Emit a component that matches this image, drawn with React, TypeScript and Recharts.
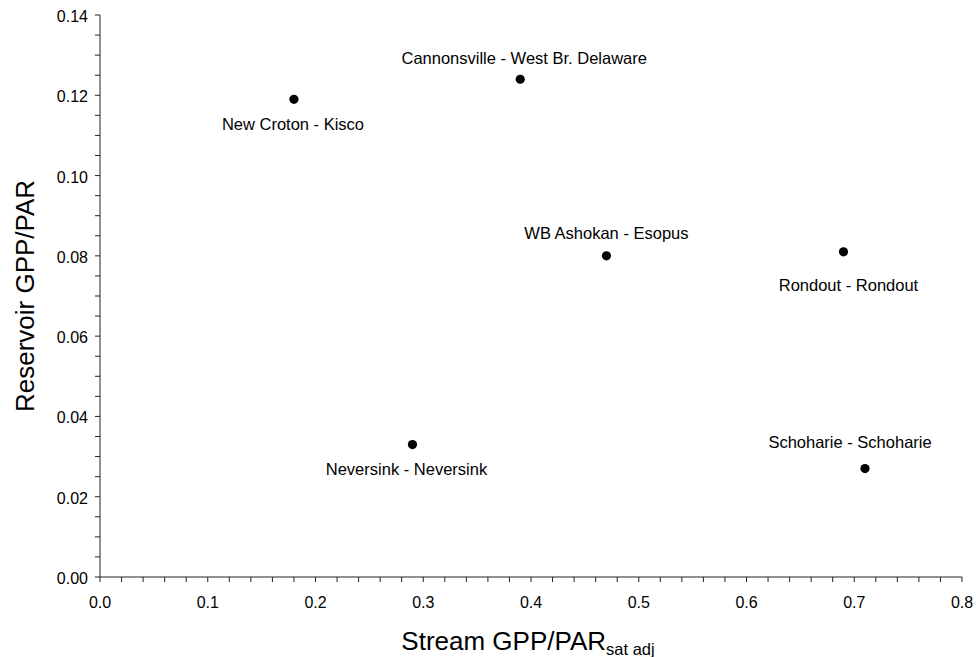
import { ScatterChart, Scatter, XAxis, YAxis } from 'recharts'

const sites = [
  'New Croton - Kisco',
  'Cannonsville - West Br. Delaware',
  'WB Ashokan - Esopus',
  'Rondout - Rondout',
  'Neversink - Neversink',
  'Schoharie - Schoharie',
]
const streamGpp = [0.18, 0.39, 0.47, 0.69, 0.29, 0.71]
const reservoirGpp = [0.119, 0.124, 0.08, 0.081, 0.033, 0.027]

const xTicks = [0, 0.1, 0.2, 0.3, 0.4, 0.5, 0.6, 0.7, 0.8]
const xTickLabels = ['0.0', '0.1', '0.2', '0.3', '0.4', '0.5', '0.6', '0.7', '0.8']
const yTicks = [0, 0.02, 0.04, 0.06, 0.08, 0.1, 0.12, 0.14]
const yTickLabels = ['0.00', '0.02', '0.04', '0.06', '0.08', '0.10', '0.12', '0.14']

const FONT = '"Liberation Sans", Arial, sans-serif'
const AXIS = '#222'

// minor ticks: 5 per major on x, 4 per major on y
function subdivide(major: number[], parts: number) {
  const out: number[] = []
  for (let i = 0; i < major.length - 1; i++) {
    const step = (major[i + 1] - major[i]) / parts
    for (let k = 0; k < parts; k++) out.push(+(major[i] + k * step).toFixed(6))
  }
  out.push(major[major.length - 1])
  return out
}
const xAllTicks = subdivide(xTicks, 5)
const yAllTicks = subdivide(yTicks, 4)

const data = sites.map((name, i) => ({ name, x: streamGpp[i], y: reservoirGpp[i] }))

// where each label sits relative to its dot
const labelOffset: Record<string, [number, number]> = {
  'New Croton - Kisco': [-1, 31],
  'Cannonsville - West Br. Delaware': [4, -15],
  'WB Ashokan - Esopus': [0, -17],
  'Rondout - Rondout': [5, 39],
  'Neversink - Neversink': [-6, 30],
  'Schoharie - Schoharie': [-15, -21],
}

function majorIndex(v: number, ticks: number[]) {
  return ticks.findIndex((t) => Math.abs(t - v) < 1e-6)
}

function XTick(props: any) {
  const { x, y, payload } = props
  const idx = majorIndex(payload.value, xTicks)
  return (
    <g>
      <line x1={x} x2={x} y1={y} y2={y + 5} stroke={AXIS} />
      {idx >= 0 && (
        <text x={x} y={y + 31} textAnchor="middle" fontSize={16} fontFamily={FONT} fill="#000">
          {xTickLabels[idx]}
        </text>
      )}
    </g>
  )
}

function YTick(props: any) {
  const { x, y, payload } = props
  const idx = majorIndex(payload.value, yTicks)
  return (
    <g>
      <line x1={x - 5} x2={x} y1={y} y2={y} stroke={AXIS} />
      {idx >= 0 && (
        <text x={x - 12} y={y + 7} textAnchor="end" fontSize={16} fontFamily={FONT} fill="#000">
          {yTickLabels[idx]}
        </text>
      )}
    </g>
  )
}

function Dot(props: any) {
  const { cx, cy, payload } = props
  const [dx, dy] = labelOffset[payload.name] ?? [0, -15]
  return (
    <g>
      <circle cx={cx} cy={cy} r={4.6} fill="#000" />
      <text x={cx + dx} y={cy + dy} textAnchor="middle" fontSize={16.5} fontFamily={FONT} fill="#000">
        {payload.name}
      </text>
    </g>
  )
}

export default function App() {
  return (
    <div style={{ position: 'absolute', left: 0, top: 0, background: '#fff' }}>
      <ScatterChart width={976} height={657} margin={{ top: 15, right: 14, bottom: 0, left: 0 }}>
        <XAxis
          type="number"
          dataKey="x"
          domain={[0, 0.8]}
          ticks={xAllTicks}
          interval={0}
          height={80}
          tickSize={0}
          tickMargin={0}
          tickLine={false}
          tick={<XTick />}
          axisLine={{ stroke: AXIS }}
          label={{
            content: (p: any) => {
              const vb = p.viewBox
              return (
                <text
                  x={vb.x + vb.width / 2 - 3}
                  y={650}
                  textAnchor="middle"
                  fontSize={26}
                  fontFamily={FONT}
                  fill="#000"
                >
                  Stream GPP/PAR
                  <tspan fontSize={16.5} dy={5}>
                    sat adj
                  </tspan>
                </text>
              )
            },
          }}
        />
        <YAxis
          type="number"
          dataKey="y"
          domain={[0, 0.14]}
          ticks={yAllTicks}
          interval={0}
          width={100}
          tickSize={0}
          tickMargin={0}
          tickLine={false}
          tick={<YTick />}
          axisLine={{ stroke: AXIS }}
          label={{
            content: (p: any) => {
              const vb = p.viewBox
              const cy = vb.y + vb.height / 2
              return (
                <text
                  x={34}
                  y={cy}
                  transform={`rotate(-90 34 ${cy})`}
                  textAnchor="middle"
                  fontSize={26}
                  fontFamily={FONT}
                  fill="#000"
                >
                  Reservoir GPP/PAR
                </text>
              )
            },
          }}
        />
        <Scatter data={data} shape={<Dot />} isAnimationActive={false} />
      </ScatterChart>
    </div>
  )
}
